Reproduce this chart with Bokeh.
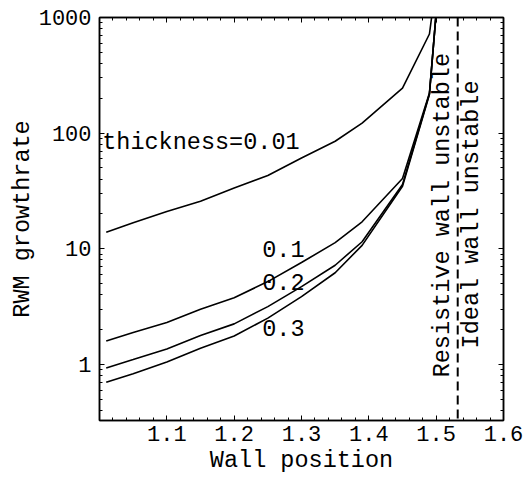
from math import pi
from bokeh.plotting import figure
from bokeh.models import FixedTicker, LinearAxis, LogAxis, Label, Span, BasicTickFormatter
from bokeh.embed import file_html
from bokeh.resources import INLINE

# ---- data ----
wall = [1.01, 1.05, 1.10, 1.15, 1.20, 1.25, 1.30, 1.35, 1.39, 1.45, 1.49, 1.50]
rate_t001 = [13.9, 16.8, 21.0, 25.8, 33.5, 43.0, 61.0, 85.0, 122.0, 245.0, 720.0, 2000.0]
rate_t01 = [1.59, 1.89, 2.30, 3.00, 3.77, 5.20, 7.60, 11.3, 17.1, 40.5, 222.0, 1100.0]
rate_t02 = [0.93, 1.10, 1.36, 1.78, 2.24, 3.16, 4.70, 7.20, 11.5, 36.0, 219.0, 1100.0]
rate_t03 = [0.70, 0.83, 1.05, 1.38, 1.76, 2.51, 3.85, 6.20, 10.7, 34.7, 216.0, 1100.0]
ideal_wall_limit = 1.532

x_ticks = [1.1, 1.2, 1.3, 1.4, 1.5, 1.6]
y_ticks = [1, 10, 100, 1000]
curve_labels = ["thickness=0.01", "0.1", "0.2", "0.3"]

x_minor = [round(1.0 + 0.02 * i, 2) for i in range(1, 30)]
y_minor = [m * 10 ** e for e in range(-1, 3) for m in range(2, 10) if m * 10 ** e > 0.33]

FONT = "Liberation Mono"

p = figure(width=525, height=478, x_range=(1.0, 1.6), y_range=(0.327, 1000),
           y_axis_type="log", output_backend="svg", toolbar_location=None,
           min_border_left=99, min_border_right=22, min_border_top=17, min_border_bottom=58,
           background_fill_color="white", border_fill_color="white")
p.xgrid.visible = False
p.ygrid.visible = False
p.outline_line_color = "black"
p.outline_line_width = 1.5

def style_axis(ax, show_labels=True):
    ax.axis_line_color = "black"
    ax.axis_line_width = 1.5
    ax.major_tick_in = 5
    ax.major_tick_out = 0
    ax.minor_tick_in = 3
    ax.minor_tick_out = 0
    ax.major_tick_line_color = "black"
    ax.minor_tick_line_color = "black"
    ax.major_label_text_font = FONT
    ax.axis_label_text_font = FONT
    ax.axis_label_text_font_style = "normal"
    ax.axis_label_text_color = "black"
    ax.axis_label_text_font_size = "23.5px"
    if show_labels:
        ax.major_label_text_font_size = "22px"
        ax.major_label_text_color = "black"
    else:
        ax.major_label_text_font_size = "1px"
        ax.major_label_text_color = None
        ax.major_label_standoff = 0

xt = FixedTicker(ticks=x_ticks, minor_ticks=x_minor)
yt = FixedTicker(ticks=y_ticks, minor_ticks=y_minor)

p.xaxis.ticker = xt
p.yaxis.ticker = yt
p.xaxis.formatter = BasicTickFormatter(use_scientific=False)
p.yaxis.formatter = BasicTickFormatter(use_scientific=False)
style_axis(p.xaxis[0])
style_axis(p.yaxis[0])
p.xaxis.axis_label = "Wall position"
p.yaxis.axis_label = "RWM growthrate"
p.xaxis.major_label_standoff = 5
p.xaxis.axis_label_standoff = 3
p.yaxis.major_label_standoff = 8
p.yaxis.axis_label_standoff = 0

top_ax = LinearAxis(ticker=FixedTicker(ticks=x_ticks, minor_ticks=x_minor))
style_axis(top_ax, show_labels=False)
p.add_layout(top_ax, "above")
right_ax = LogAxis(ticker=FixedTicker(ticks=y_ticks, minor_ticks=y_minor))
style_axis(right_ax, show_labels=False)
p.add_layout(right_ax, "right")

for ys in (rate_t001, rate_t01, rate_t02, rate_t03):
    p.line(wall, ys, line_color="black", line_width=1.6)

p.add_layout(Span(location=ideal_wall_limit, dimension="height", line_color="black",
                  line_width=2, line_dash="9 5"))

label_pos = [(1.004, 83.6), (1.2416, 9.9), (1.2416, 5.16), (1.2416, 2.05)]
for txt, (lx, ly) in zip(curve_labels, label_pos):
    p.add_layout(Label(x=lx, y=ly, text=txt, text_font=FONT, text_font_size="23.5px",
                       text_color="black", text_align="left", text_baseline="middle"))

p.add_layout(Label(x=1.510, y=0.772, text="Resistive wall unstable", angle=pi / 2,
                   text_font=FONT, text_font_size="23.5px", text_color="black",
                   text_align="left", text_baseline="middle"))
p.add_layout(Label(x=1.5525, y=1.375, text="Ideal wall unstable", angle=pi / 2,
                   text_font=FONT, text_font_size="23.5px", text_color="black",
                   text_align="left", text_baseline="middle"))

open("out.html", "w").write(file_html(p, INLINE))
